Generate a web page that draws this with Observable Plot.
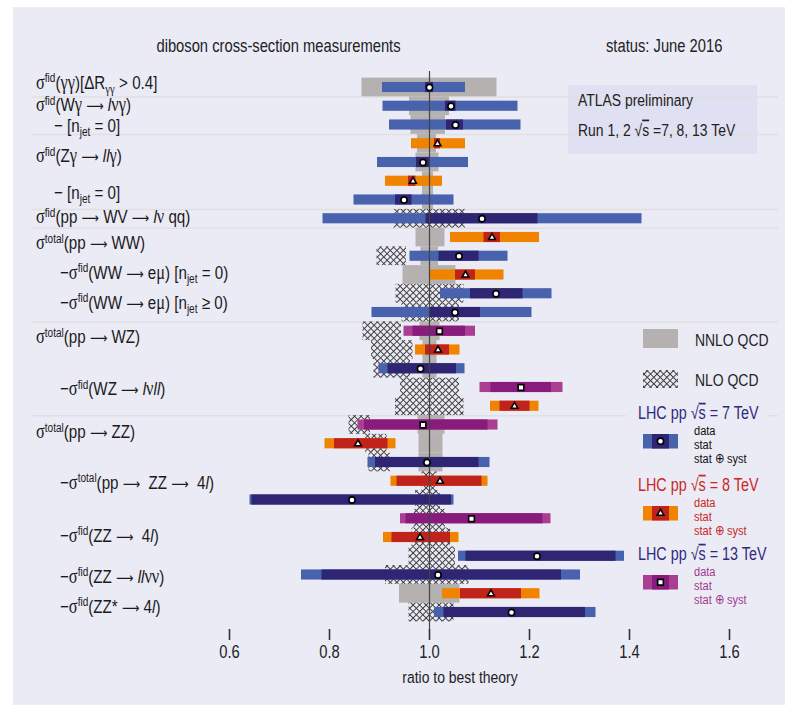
<!DOCTYPE html>
<html><head><meta charset="utf-8">
<script src="https://cdn.jsdelivr.net/npm/d3@7"></script>
<script src="https://cdn.jsdelivr.net/npm/@observablehq/plot@0.6"></script>
<style>
body{margin:0;background:#fff;}
#chart svg text{white-space:pre;}
</style>
</head><body><div id="chart"></div>
<script>
// ---------------- data ----------------
const rowEnergy = [7,7,7,8,7,8,7,7,8,7,8,7,7,13,8,7,13,8,13,8,7,8,7,13,8,7,7,8,7];
const dataValue = [1.000,1.043,1.052,1.016,0.987,0.967,0.949,1.105,1.125,1.059,1.072,1.133,1.051,1.020,1.017,0.982,1.183,1.170,0.987,0.857,0.995,1.021,0.845,1.084,0.981,1.215,1.017,1.123,1.164];
const statLo = [0.992,1.032,1.034,1.010,0.974,0.958,0.932,0.993,1.109,1.019,1.052,1.082,1.000,0.967,0.992,0.917,1.123,1.141,0.870,0.810,0.892,0.935,0.645,0.953,0.925,1.073,0.785,1.062,1.029];
const statHi = [1.008,1.053,1.068,1.022,1.000,0.973,0.965,1.217,1.142,1.099,1.092,1.187,1.102,1.072,1.040,1.054,1.244,1.201,1.117,0.917,1.099,1.105,1.044,1.227,1.042,1.373,1.264,1.184,1.312];
const totLo  = [0.906,0.907,0.920,0.964,0.896,0.912,0.849,0.787,1.042,0.961,1.000,1.022,0.885,0.949,0.972,0.899,1.101,1.122,0.857,0.791,0.877,0.923,0.641,0.942,0.908,1.058,0.744,1.026,1.010];
const totHi  = [1.072,1.177,1.183,1.072,1.078,1.026,1.049,1.425,1.220,1.157,1.149,1.245,1.205,1.092,1.061,1.071,1.267,1.219,1.137,0.933,1.121,1.117,1.049,1.243,1.059,1.390,1.302,1.221,1.333];
const nnloLo = [0.865,0.960,0.963,0.976,0.973,0.986,0.986,null,0.973,0.983,0.947,null,null,0.981,0.987,0.987,null,null,0.977,0.979,0.979,null,null,null,null,null,null,0.940,null];
const nnloHi = [1.135,1.040,1.032,1.014,1.019,1.008,1.008,null,1.031,1.018,1.053,null,null,1.021,1.015,1.015,null,null,1.031,1.027,1.027,null,null,null,null,null,null,1.061,null];
const nloLo  = [null,null,null,null,null,null,null,0.929,null,0.895,null,0.933,0.945,0.867,0.884,0.889,0.942,0.932,0.839,0.872,0.879,0.985,0.972,0.969,0.965,0.959,0.912,null,0.959];
const nloHi  = [null,null,null,null,null,null,null,1.072,null,0.954,null,1.069,1.060,0.944,0.967,0.962,1.060,1.069,0.882,0.915,0.922,1.015,1.022,1.032,1.042,1.052,1.079,null,1.049];
const groupSizes = [1,2,4,1,5,5,11];

const labels = [
  "σ^{fid}(γγ)[ΔR_{γγ} > 0.4]",
  "σ^{fid}(Wγ → |l|νγ)",
  "− [n_{jet} = 0]",
  "σ^{fid}(Zγ → |ll|γ)",
  "− [n_{jet} = 0]",
  "σ^{fid}(pp → WV → |l|ν qq)",
  "σ^{total}(pp → WW)",
  "−σ^{fid}(WW → eμ) [n_{jet} = 0)",
  "−σ^{fid}(WW → eμ) [n_{jet} ≥ 0)",
  "σ^{total}(pp → WZ)",
  "−σ^{fid}(WZ → |l|ν|ll|)",
  "σ^{total}(pp → ZZ)",
  "−σ^{total}(pp →  ZZ →  4|l|)",
  "−σ^{fid}(ZZ →  4|l|)",
  "−σ^{fid}(ZZ → |ll|νν)",
  "−σ^{fid}(ZZ* → 4|l|)"
];
const labelRow = [-0.26,0.96,2.03,3.68,5.65,6.93,8.32,9.87,11.47,13.33,16.1,18.4,21.1,23.9,26.1,27.7];
const labelLevel = [0,0,1,0,1,0,0,2,2,0,2,0,2,2,2,2];
const xTicks = [0.6,0.8,1.0,1.2,1.4,1.6];
const energies = [7,8,13];
const legendTheory = ["NNLO QCD","NLO QCD"];
const legendItems = ["data","stat","stat ⊕ syst"];

// ---------------- styles ----------------
const FONT = '"Liberation Sans",Arial,sans-serif';
const SERIF = '"Liberation Serif","DejaVu Serif",serif';
const ARROWFONT = '"DejaVu Sans",sans-serif';
const KX = 0.82; // horizontal condensing of text
const BG = "#ebebf6", BOX = "#dfe0f1", GRAY = "#b4b1b0", SEP = "#e2dfe0";
const OUTER = {7:"#4862ad", 8:"#f08400", 13:"#aa3f91"};
const INNER = {7:"#2e2573", 8:"#c0221c", 13:"#891b7d"};
const TITLECOL = {7:"#2f2a7a", 8:"#c8281f", 13:"#2f2a7a"};
const ITEMCOL = {7:"#111111", 8:"#c8281f", 13:"#a13a8e"};
const SYMBOL = {7:"circle", 8:"triangle", 13:"square"};
const SYMR = {7:3.1, 8:2.5, 13:3.2};

const rows = rowEnergy.map((e,i)=>({row:i, e, v:dataValue[i], sLo:statLo[i], sHi:statHi[i], tLo:totLo[i], tHi:totHi[i],
  nnLo:nnloLo[i], nnHi:nnloHi[i], nLo:nloLo[i], nHi:nloHi[i]}));
const separators = [];
{ let c = -0.5; for (const g of groupSizes.slice(0,-1)) { c += g; separators.push(c); } }
const H = 0.27;

const plot = Plot.plot({
  width: 785, height: 705,
  marginLeft: 32, marginRight: 7, marginTop: 71, marginBottom: 76,
  x: {domain:[0.6,1.6], range:[229,729]},
  y: {domain:[0,28], range:[87,612], axis:null},
  color: {type:"identity"},
  style: {fontFamily: FONT, fontSize:"18px", color:"#222", background:"transparent"},
  marks: [
    Plot.ruleY(separators, {stroke: SEP, strokeWidth: 1.5}),
    Plot.rect(rows.filter(d=>d.nnLo!=null), {x1:"nnLo", x2:"nnHi", y1:d=>d.row-0.5, y2:d=>d.row+0.5, fill:GRAY}),
    Plot.rect(rows.filter(d=>d.nLo!=null), {x1:"nLo", x2:"nHi", y1:d=>d.row-0.5, y2:d=>d.row+0.5, fill:"url(#nlo-hatch)"}),
    Plot.rect(rows, {x1:"tLo", x2:"tHi", y1:d=>d.row-H, y2:d=>d.row+H, fill:d=>OUTER[d.e]}),
    Plot.rect(rows, {x1:"sLo", x2:"sHi", y1:d=>d.row-H, y2:d=>d.row+H, fill:d=>INNER[d.e]}),
    Plot.ruleX([1], {stroke:"#444", strokeWidth:1.2}),
    ...energies.map(e => Plot.dot(rows.filter(d=>d.e===e), {x:"v", y:"row", symbol:SYMBOL[e], r:SYMR[e], fill:"white", stroke:"black", strokeWidth:1.6})),
    Plot.axisX(xTicks, {anchor:"bottom", tickSize:11, tickPadding:5, tickFormat:d=>d.toFixed(1), label:null, fontSize:18, stroke:"#333", strokeWidth:1.6, fill:"#222"})
  ]
});
document.getElementById("chart").appendChild(plot);

const svg = d3.select(plot);
svg.selectAll("text").style("font-family", FONT);
svg.selectAll('g[aria-label="x-axis tick label"] text').each(function(){
  const tr = this.getAttribute("transform") || "";
  this.setAttribute("transform", tr + ` scale(${KX},1)`);
});
// pattern
const defs = svg.insert("defs", ":first-child");
const pat = defs.append("pattern").attr("id","nlo-hatch").attr("patternUnits","userSpaceOnUse")
  .attr("width",4.6).attr("height",4.6).attr("patternTransform","rotate(45)");
pat.append("path").attr("d","M0,2.3H4.6M2.3,0V4.6").attr("stroke","#3c3c3c").attr("stroke-width",1.0).attr("fill","none");
// underlay
const under = svg.insert("g", "defs + *");
under.append("rect").attr("x",13).attr("y",7).attr("width",772).attr("height",698).attr("fill",BG);
under.append("rect").attr("x",568).attr("y",85).attr("width",189).attr("height",69).attr("fill",BOX);

const over = svg.append("g").style("font-family", FONT).attr("fill","#222").attr("text-anchor","start");
function base(parent, x, y, size, fill, anchor) {
  return parent.append("text").attr("transform",`translate(${x},${y}) scale(${KX},1)`).attr("dy","0.35em")
    .attr("text-anchor",anchor).style("font-size",size+"px").attr("fill",fill);
}
function txt(parent, x, y, s, size, fill, anchor="start") {
  return base(parent, x, y, size, fill, anchor).text(s);
}
function rich(parent, str, x, y, size, fill, anchor="start") {
  const t = base(parent, x, y, size, fill, anchor);
  const segs = []; let i=0, buf="";
  const push=(s,m)=>{ if(s) segs.push({s,m}); };
  while(i<str.length){
    const c=str[i];
    if((c==="^"||c==="_") && str[i+1]==="{"){ push(buf,"n"); buf=""; const j=str.indexOf("}",i); push(str.slice(i+2,j), c==="^"?"sup":"sub"); i=j+1; }
    else if(c==="|"){ push(buf,"n"); buf=""; const j=str.indexOf("|",i+1); push(str.slice(i+1,j),"it"); i=j+1; }
    else if(c==="~"){ push(buf,"n"); buf=""; const j=str.indexOf("~",i+1); push(str.slice(i+1,j),"ov"); i=j+1; }
    else { buf+=c; i++; }
  }
  push(buf,"n");
  let shift=0;
  for(const sg of segs){
    const target = sg.m==="sup" ? -0.36*size : sg.m==="sub" ? 0.22*size : 0;
    const fs = (sg.m==="sup"||sg.m==="sub") ? size*0.66 : size;
    const runs = sg.s.match(/[σγνμ]+|→|[^σγνμ→]+/g);
    let first=true;
    for(const r of runs){
      const isArrow = r === "→";
      const isGreek = /[σγνμ]/.test(r);
      const ts = t.append("tspan").text(isArrow ? "⟶" : r).style("font-size",(isArrow ? fs*0.8 : isGreek ? fs*1.08 : fs)+"px");
      if(first){ if(target!==shift) ts.attr("dy", target-shift); shift=target; first=false; }
      if(isGreek) ts.style("font-family", SERIF);
      if(isArrow) ts.style("font-family", ARROWFONT);
      if(sg.m==="it") ts.style("font-style","italic");
      if(sg.m==="ov") ts.style("text-decoration","overline");
    }
  }
  return t;
}
// titles
txt(over, 278.5, 46, "diboson cross-section measurements", 18, "#222", "middle");
txt(over, 606, 46, "status: June 2016", 18, "#222");
txt(over, 578, 100, "ATLAS preliminary", 17, "#222");
rich(over, "Run 1, 2 √~s~ =7, 8, 13 TeV", 578, 130, 17, "#222");
// axis title
txt(over, 460, 677, "ratio to best theory", 17, "#222", "middle");
// row labels
const yS = plot.scale("y");
const levelX = [36, 54, 60];
labels.forEach((s,i)=> rich(over, s, levelX[labelLevel[i]], yS.apply(labelRow[i]), 18.5, "#1a1a1a"));

// legend: theory
over.append("rect").attr("x",643).attr("y",329).attr("width",35).attr("height",19).attr("fill",GRAY);
txt(over, 695, 340, legendTheory[0], 17, "#222");
over.append("rect").attr("x",643).attr("y",370).attr("width",35).attr("height",18).attr("fill","url(#nlo-hatch)");
txt(over, 695, 380, legendTheory[1], 17, "#222");
// legend: energies
const legTop = {7:413, 8:485, 13:554};
energies.forEach(e=>{
  const ty = legTop[e];
  const t = rich(over, `LHC pp √~s~ = ${e} TeV`, 638, ty, 17.5, TITLECOL[e]);
  const bb = t.node().getBBox();
  over.insert("rect", () => t.node()).attr("x",638-12).attr("y",ty+bb.y+2).attr("width",bb.width*KX+20).attr("height",bb.height-4).attr("fill",BG);
  const sy = ty + 21;
  over.append("rect").attr("x",643).attr("y",sy).attr("width",35).attr("height",14.5).attr("fill",OUTER[e]);
  over.append("rect").attr("x",652).attr("y",sy).attr("width",17).attr("height",14.5).attr("fill",INNER[e]);
  const sym = {circle:d3.symbolCircle, triangle:d3.symbolTriangle, square:d3.symbolSquare}[SYMBOL[e]];
  over.append("path").attr("d", d3.symbol(sym, Math.PI*SYMR[e]*SYMR[e])()).attr("transform",`translate(660.5,${sy+7.25})`)
    .attr("fill","white").attr("stroke","black").attr("stroke-width",1.6);
  legendItems.forEach((s,k)=> txt(over, 694, ty+17+k*14, s, 13.5, ITEMCOL[e]));
});
</script>
</body></html>
